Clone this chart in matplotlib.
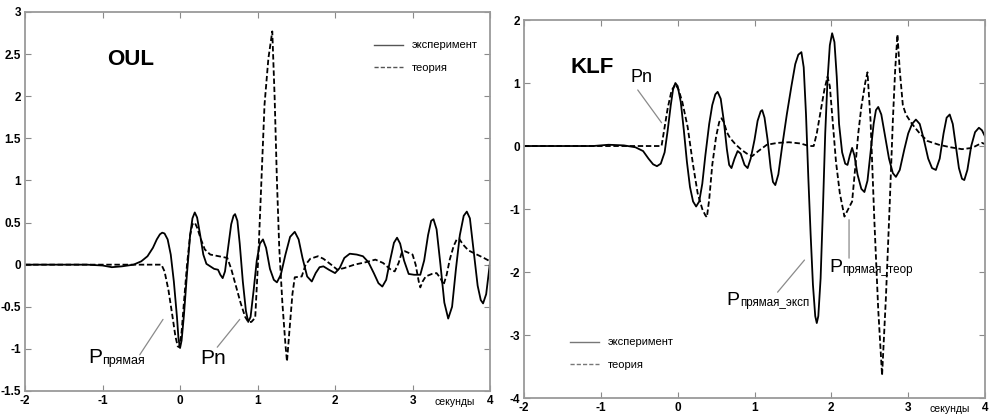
import matplotlib
matplotlib.use("Agg")
import matplotlib.pyplot as plt

oul_exp_t = [-2.0, -1.5, -1.2, -1.0, -0.88, -0.75, -0.6, -0.5, -0.42, -0.35, -0.3, -0.26,
             -0.23, -0.2, -0.16, -0.12, -0.08, -0.04, -0.02, 0.0, 0.02, 0.05, 0.09, 0.13,
             0.16, 0.19, 0.22, 0.26, 0.3, 0.34, 0.39, 0.44, 0.49, 0.52, 0.55, 0.58, 0.62,
             0.66, 0.69, 0.71, 0.74, 0.77, 0.81, 0.85, 0.88, 0.91, 0.95, 0.99, 1.03, 1.07,
             1.11, 1.16, 1.21, 1.25, 1.3, 1.36, 1.42, 1.48, 1.53, 1.58, 1.64, 1.7, 1.75,
             1.8, 1.85, 1.92, 2.0, 2.06, 2.12, 2.19, 2.28, 2.36, 2.43, 2.5, 2.56, 2.61,
             2.66, 2.71, 2.76, 2.8, 2.84, 2.89, 2.95, 3.02, 3.1, 3.15, 3.2, 3.24, 3.27,
             3.31, 3.36, 3.41, 3.46, 3.51, 3.56, 3.61, 3.66, 3.7, 3.74, 3.79, 3.84, 3.88,
             3.91, 3.95, 4.0]
oul_exp_v = [0.0, 0.0, 0.0, -0.01, -0.03, -0.02, 0.0, 0.04, 0.1, 0.2, 0.3, 0.36,
             0.38, 0.37, 0.3, 0.12, -0.2, -0.62, -0.88, -0.99, -0.9, -0.6, -0.1, 0.35,
             0.55, 0.62, 0.56, 0.35, 0.12, 0.01, -0.02, -0.05, -0.06, -0.12, -0.16, -0.08, 0.2,
             0.48, 0.58, 0.6, 0.52, 0.25, -0.2, -0.55, -0.68, -0.62, -0.3, 0.05, 0.25, 0.3,
             0.2, -0.05, -0.18, -0.21, -0.12, 0.12, 0.33, 0.39, 0.3, 0.08, -0.14, -0.2, -0.1,
             -0.03, -0.02, -0.06, -0.1, -0.04, 0.08, 0.13, 0.12, 0.1, 0.03, -0.1, -0.22, -0.26,
             -0.18, 0.05, 0.26, 0.32, 0.25, 0.05, -0.11, -0.12, -0.12, 0.05, 0.35, 0.52, 0.54,
             0.42, 0.0, -0.45, -0.64, -0.5, -0.05, 0.35, 0.58, 0.63, 0.55, 0.15, -0.25, -0.42,
             -0.46, -0.35, 0.03]

oul_th_t = [-2.0, -0.24, -0.2, -0.15, -0.1, -0.06, -0.03, -0.01, 0.02, 0.05, 0.09, 0.13,
            0.16, 0.19, 0.22, 0.27, 0.32, 0.39, 0.5, 0.61, 0.66, 0.72, 0.78, 0.84, 0.88,
            0.92, 0.97, 1.01, 1.05, 1.09, 1.14, 1.19, 1.22, 1.25, 1.28, 1.32, 1.36, 1.38,
            1.41, 1.45, 1.48, 1.57, 1.62, 1.68, 1.78, 1.85, 1.95, 2.03, 2.12, 2.25, 2.4,
            2.52, 2.62, 2.72, 2.77, 2.82, 2.86, 2.9, 3.0, 3.04, 3.08, 3.1, 3.13, 3.17,
            3.25, 3.31, 3.36, 3.4, 3.44, 3.48, 3.53, 3.57, 3.6, 3.65, 3.72, 3.83, 3.92, 4.0]
oul_th_v = [0.0, 0.0, -0.08, -0.3, -0.6, -0.85, -0.97, -0.98, -0.8, -0.45, 0.0, 0.35,
            0.48, 0.5, 0.44, 0.3, 0.18, 0.12, 0.1, 0.08, -0.05, -0.25, -0.45, -0.62, -0.68,
            -0.68, -0.63, 0.1, 1.0, 1.9, 2.45, 2.77, 2.0, 1.0, 0.2, -0.45, -0.95, -1.15,
            -0.8, -0.35, -0.15, -0.14, 0.0, 0.07, 0.1, 0.07, 0.0, -0.06, -0.04, 0.0, 0.03,
            0.06, 0.02, -0.06, -0.08, 0.02, 0.14, 0.16, 0.12, 0.0, -0.2, -0.27, -0.2, -0.14,
            -0.11, -0.1, -0.16, -0.24, -0.12, 0.06, 0.22, 0.3, 0.31, 0.24, 0.17, 0.12, 0.08, 0.04]

# KLF
klf_exp_t = [-2.0, -1.1, -0.9, -0.7, -0.55, -0.45, -0.38, -0.32, -0.27, -0.22, -0.17, -0.13,
             -0.09, -0.06, -0.03, 0.0, 0.04, 0.08, 0.12, 0.16, 0.2, 0.24, 0.28, 0.32, 0.36,
             0.41, 0.45, 0.49, 0.52, 0.56, 0.6, 0.64, 0.67, 0.7, 0.74, 0.78, 0.82, 0.87,
             0.91, 0.95, 1.0, 1.04, 1.08, 1.1, 1.13, 1.17, 1.21, 1.24, 1.27, 1.31, 1.36,
             1.42, 1.48, 1.53, 1.57, 1.61, 1.64, 1.67, 1.7, 1.73, 1.76, 1.79, 1.81, 1.83,
             1.86, 1.89, 1.92, 1.95, 1.98, 2.01, 2.04, 2.07, 2.1, 2.14, 2.18, 2.21, 2.24,
             2.27, 2.3, 2.34, 2.39, 2.43, 2.47, 2.51, 2.55, 2.58, 2.61, 2.65, 2.7, 2.75,
             2.8, 2.84, 2.89, 2.95, 3.0, 3.05, 3.1, 3.15, 3.2, 3.26, 3.31, 3.36, 3.41,
             3.46, 3.5, 3.54, 3.58, 3.62, 3.66, 3.7, 3.73, 3.77, 3.82, 3.87, 3.92, 3.96, 4.0]
klf_exp_v = [0.0, 0.0, 0.02, 0.01, -0.02, -0.08, -0.2, -0.29, -0.32, -0.28, -0.1, 0.25,
             0.65, 0.9, 1.0, 0.95, 0.7, 0.25, -0.25, -0.65, -0.88, -0.96, -0.88, -0.6, -0.15,
             0.35, 0.65, 0.82, 0.86, 0.75, 0.4, -0.05, -0.3, -0.35, -0.2, -0.08, -0.12, -0.3,
             -0.35, -0.2, 0.1, 0.4, 0.55, 0.57, 0.45, 0.1, -0.35, -0.57, -0.62, -0.45, 0.0,
             0.5, 0.95, 1.3, 1.45, 1.49, 1.25, 0.5, -0.5, -1.4, -2.2, -2.7, -2.81, -2.7,
             -2.1, -1.0, 0.2, 1.05, 1.6, 1.79, 1.65, 1.1, 0.35, -0.1, -0.28, -0.3, -0.15,
             -0.03, -0.15, -0.45, -0.68, -0.73, -0.55, -0.1, 0.35, 0.57, 0.62, 0.5, 0.15, -0.2,
             -0.43, -0.49, -0.38, -0.05, 0.2, 0.35, 0.42, 0.35, 0.12, -0.2, -0.35, -0.38, -0.2,
             0.2, 0.45, 0.5, 0.35, 0.0, -0.35, -0.52, -0.54, -0.38, 0.0, 0.22, 0.29, 0.25, 0.15]

klf_th_t = [-2.0, -0.21, -0.17, -0.13, -0.08, -0.03, 0.01, 0.06, 0.13, 0.2, 0.26, 0.32,
            0.36, 0.38, 0.41, 0.45, 0.5, 0.54, 0.57, 0.6, 0.64, 0.68, 0.75, 0.83, 0.9,
            0.97, 1.05, 1.16, 1.3, 1.45, 1.6, 1.71, 1.77, 1.81, 1.86, 1.91, 1.95, 1.98,
            2.02, 2.06, 2.11, 2.17, 2.22, 2.27, 2.31, 2.35, 2.39, 2.44, 2.47, 2.51, 2.56,
            2.61, 2.66, 2.71, 2.76, 2.8, 2.83, 2.86, 2.89, 2.93, 2.97, 3.05, 3.15, 3.25,
            3.4, 3.55, 3.7, 3.83, 3.96, 4.0]
klf_th_v = [0.0, 0.0, 0.3, 0.6, 0.88, 0.98, 0.9, 0.7, 0.3, -0.3, -0.75, -1.0,
            -1.1, -1.13, -0.85, -0.3, 0.15, 0.38, 0.44, 0.38, 0.22, 0.13, 0.03, -0.06, -0.12,
            -0.16, -0.08, 0.02, 0.05, 0.06, 0.04, 0.0, 0.0, 0.2, 0.55, 0.9, 1.1, 0.95,
            0.35, -0.25, -0.75, -1.12, -1.0, -0.88, -0.35, 0.2, 0.62, 1.0, 1.17, 0.4, -1.2,
            -2.6, -3.64, -2.4, -0.9, 0.4, 1.2, 1.77, 1.2, 0.65, 0.5, 0.35, 0.2, 0.08,
            0.02, -0.02, -0.05, -0.03, 0.05, 0.03]

oul_yticks = [-1.5, -1, -0.5, 0, 0.5, 1, 1.5, 2, 2.5, 3]
klf_yticks = [-4, -3, -2, -1, 0, 1, 2]
xticks = [-2, -1, 0, 1, 2, 3, 4]

plt.rcParams['font.family'] = ['Liberation Sans', 'DejaVu Sans']

SOLID = dict(color='black', lw=1.3)
DASHED = dict(color='black', lw=1.3, ls=(0, (3, 1.5)))
LEADER = dict(arrowstyle='-', color='#8a8a8a', lw=0.9, shrinkA=0, shrinkB=0)


def style_axes(ax, ylim, yticks):
    ax.set_xlim(-2, 4)
    ax.set_ylim(*ylim)
    ax.set_xticks(xticks)
    ax.set_yticks(yticks)
    ax.set_xticklabels([f"{t:g}" for t in xticks])
    ax.set_yticklabels([f"{t:g}" for t in yticks])
    for s in ax.spines.values():
        s.set_color('#9a9a9a')
        s.set_linewidth(1.3)
    ax.tick_params(direction='in', top=True, right=True, length=4, width=0.8,
                   color='#8a8a8a', labelsize=8.5, pad=3)
    for lab in ax.get_xticklabels() + ax.get_yticklabels():
        lab.set_fontweight('bold')
        lab.set_family(['Liberation Sans Narrow', 'Liberation Sans'])


def p_label(ax, x, y, sub, size):
    t = ax.text(x, y, 'P', fontsize=size, va='baseline', ha='left')
    ax.annotate(sub, xy=(1, 0), xycoords=t, fontsize=size * 0.6, va='bottom', ha='left')


fig = plt.figure(figsize=(9.9, 4.18), dpi=100)
ax1 = fig.add_axes([0.0253, 0.0646, 0.4697, 0.9067])
ax2 = fig.add_axes([0.5293, 0.0478, 0.4657, 0.9043])

# left panel
ax1.plot(oul_exp_t, oul_exp_v, label='эксперимент', **SOLID)
ax1.plot(oul_th_t, oul_th_v, label='теория', **DASHED)
style_axes(ax1, (-1.5, 3), oul_yticks)
ax1.text(-0.94, 2.44, 'OUL', fontsize=16, fontweight='bold', va='center')
leg = ax1.legend(loc='upper left', bbox_to_anchor=(0.75, 0.925), frameon=False,
                 fontsize=8, handlelength=2.6, handletextpad=0.8, labelspacing=1.1,
                 borderpad=0, borderaxespad=0)
for h in leg.get_lines():
    h.set_color('#555555')
    h.set_linewidth(1.0)
p_label(ax1, -1.19, -1.17, 'прямая', 15)
ax1.annotate('', xy=(-0.22, -0.65), xytext=(-0.52, -1.07), arrowprops=LEADER)
ax1.text(0.26, -1.18, 'Pn', fontsize=15, va='baseline', ha='left')
ax1.annotate('', xy=(0.77, -0.65), xytext=(0.48, -0.98), arrowprops=LEADER)
ax1.text(3.54, -0.029, 'секунды', fontsize=7.5, ha='center', va='center',
         transform=ax1.get_xaxis_transform())

# right panel
ax2.plot(klf_exp_t, klf_exp_v, label='эксперимент', **SOLID)
ax2.plot(klf_th_t, klf_th_v, label='теория', **DASHED)
style_axes(ax2, (-4, 2), klf_yticks)
ax2.text(-1.40, 1.25, 'KLF', fontsize=16, fontweight='bold', va='center')
leg = ax2.legend(loc='lower left', bbox_to_anchor=(0.10, 0.075), frameon=False,
                 fontsize=8, handlelength=2.6, handletextpad=0.8, labelspacing=1.1,
                 borderpad=0, borderaxespad=0)
for h in leg.get_lines():
    h.set_color('#777777')
    h.set_linewidth(1.0)
ax2.text(-0.62, 1.02, 'Pn', fontsize=13, va='baseline', ha='left')
ax2.annotate('', xy=(-0.21, 0.37), xytext=(-0.52, 0.89), arrowprops=LEADER)
p_label(ax2, 0.64, -2.52, 'прямая_эксп', 14)
ax2.annotate('', xy=(1.65, -1.81), xytext=(1.30, -2.32), arrowprops=LEADER)
p_label(ax2, 1.97, -2.0, 'прямая_теор', 14)
ax2.annotate('', xy=(2.23, -1.17), xytext=(2.23, -1.78), arrowprops=LEADER)
ax2.text(3.54, -0.03, 'секунды', fontsize=7.5, ha='center', va='center',
         transform=ax2.get_xaxis_transform())

fig.savefig('out.png', dpi=100, facecolor='white')
